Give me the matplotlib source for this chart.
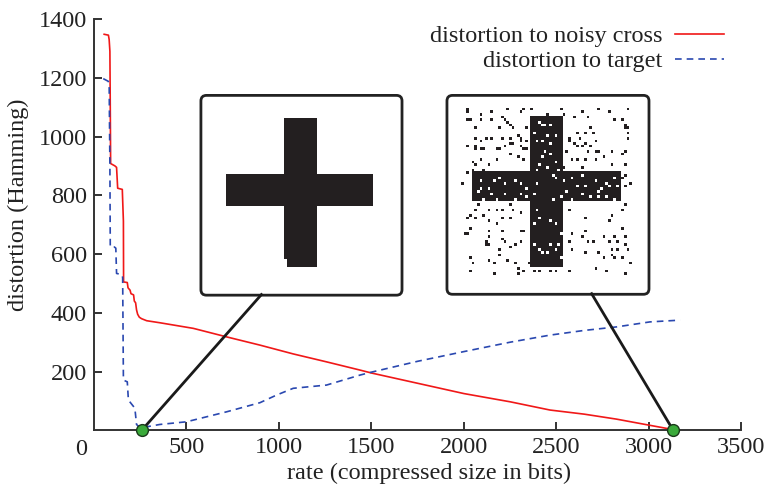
import numpy as np
import matplotlib
matplotlib.use('Agg')
import matplotlib.pyplot as plt
from matplotlib.colors import ListedColormap
from matplotlib.patches import FancyBboxPatch

plt.rcParams['font.family'] = 'serif'
plt.rcParams['font.serif'] = ['Liberation Serif', 'DejaVu Serif']
plt.rcParams['font.size'] = 17.5

# distortion to the noisy cross
rate_noisy = [55, 78, 82, 86, 90, 113, 122, 128, 153, 159, 160, 180, 184, 195, 200, 214, 218,
              225, 230, 236, 245, 257, 285, 357, 537, 717, 897, 1077, 1257, 1438, 1500, 1750,
              2000, 2250, 2465, 2650, 2825, 3005, 3100, 3150]
dist_noisy = [1348, 1345, 1330, 1290, 908, 900, 895, 824, 820, 712, 505, 503, 485, 477, 465, 461, 440,
              434, 410, 395, 385, 380, 373, 366, 347, 318, 290, 260, 233, 205, 195, 160,
              125, 97, 69, 55, 38, 17, 6, 2]

# distortion to the clean target
rate_target = [50, 77, 82, 86, 88, 110, 118, 122, 150, 155, 159, 180, 186, 215, 221, 230, 257, 285,
               357, 500, 717, 897, 987, 1077, 1257, 1438, 1500, 1750, 2000, 2250, 2465, 2650, 2825,
               3005, 3168]
dist_target = [1197, 1188, 1180, 900, 624, 624, 620, 534, 530, 520, 171, 165, 103, 80, 75, 20, 3, 12,
               20, 29, 63, 94, 120, 143, 154, 188, 198, 235, 268, 300, 324, 340, 352,
               369, 375]

# highlighted points (rate, distortion)
pick_rate = [258, 3131]
pick_dist = [0, 0]

# the 64x64 cross images: (row range, col range) of the bars
grid = 64
clean_hbar = (26, 37, 4, 58)
clean_vbar = (5, 60, 26, 37)
noisy_hbar = (25, 35, 4, 59)
noisy_vbar = (4, 60, 26, 37)

# flipped pixels of the noisy cross (col, row)
noise_flips = [
    (2, 1), (2, 2), (11, 2), (17, 1), (23, 1), (26, 1), (22, 2), (2, 5), (3, 5), (7, 3), (7, 5),
    (11, 5), (15, 4), (16, 5), (17, 6), (18, 7), (5, 8), (14, 8), (19, 8), (24, 8), (5, 12), (7, 13),
    (9, 12), (11, 12), (15, 12), (18, 12), (21, 11), (22, 12), (22, 13), (2, 15), (5, 15), (5, 16),
    (7, 16), (8, 16), (13, 16), (14, 16), (16, 15), (18, 14), (19, 14), (22, 15), (23, 16), (24, 13),
    (24, 16), (4, 21), (5, 22), (7, 20), (13, 20), (18, 18), (21, 19), (23, 20), (10, 22), (2, 25),
    (4, 24), (8, 24), (0, 29),
    (29, 6), (27, 10), (28, 13), (30, 19), (28, 24), (29, 22), (7, 28), (12, 28), (16, 29), (10, 31),
    (20, 28), (24, 31), (28, 29), (7, 31), (14, 27), (22, 29),
    (32, 3), (37, 1), (38, 3), (42, 4), (45, 2), (47, 4), (51, 1), (55, 2), (57, 5), (60, 5), (62, 1),
    (61, 7), (61, 8), (62, 8), (62, 10), (62, 12), (40, 12), (43, 10), (44, 12), (46, 10), (48, 8),
    (49, 10), (50, 13), (40, 13), (42, 14), (43, 15), (45, 15), (46, 14), (48, 15), (47, 17), (50, 17),
    (51, 17), (56, 17), (60, 18), (61, 17), (39, 17), (41, 20), (43, 20), (46, 20), (50, 20), (53, 19),
    (56, 22), (61, 22), (38, 23), (45, 23), (61, 26), (61, 30), (63, 29), (60, 27),
    (33, 7), (35, 11), (33, 14), (33, 18), (35, 21), (36, 24), (34, 26), (35, 27), (38, 28), (41, 27),
    (43, 30), (46, 30), (50, 28), (54, 29), (55, 30), (57, 27), (52, 31), (58, 30), (45, 26),
    (30, 7), (31, 7), (32, 11), (30, 13), (31, 17), (32, 23),
    (6, 32), (11, 33), (13, 35), (16, 33), (20, 35), (22, 33), (24, 34), (8, 35), (27, 33),
    (6, 37), (5, 39), (2, 42), (3, 41), (5, 42), (8, 41), (10, 39), (13, 39), (15, 39), (18, 37),
    (19, 39), (22, 40), (10, 43), (13, 44), (15, 42), (18, 42), (1, 48), (2, 48), (3, 46), (10, 47),
    (10, 49), (9, 51), (9, 52), (10, 52), (15, 47), (15, 50), (16, 51), (18, 53), (20, 52), (22, 47),
    (22, 51), (23, 47), (3, 57), (4, 59), (10, 58), (12, 59), (14, 54), (14, 56), (17, 58), (20, 59),
    (21, 61), (23, 62), (3, 62), (12, 63), (21, 63), (27, 62), (29, 62), (25, 59),
    (28, 39), (29, 42), (27, 44), (29, 54), (30, 55), (27, 52),
    (34, 35), (37, 34), (39, 32), (41, 35), (45, 33), (48, 34), (51, 34), (54, 34), (57, 35), (51, 32),
    (33, 43), (35, 44), (37, 48), (33, 52), (35, 54), (36, 52), (32, 55), (37, 57),
    (40, 39), (46, 42), (56, 41), (60, 39), (61, 37), (55, 43), (60, 46), (41, 48), (45, 49), (46, 47),
    (47, 51), (49, 51), (40, 51), (41, 54), (46, 55), (51, 55), (53, 49), (55, 51), (57, 49), (58, 51),
    (56, 54), (58, 54), (61, 49), (61, 52), (62, 54), (57, 57), (53, 57), (50, 61), (54, 62), (33, 62),
    (35, 62), (40, 62), (61, 63), (60, 57), (63, 59), (56, 56),
]


def cross(hbar, vbar):
    img = np.zeros((grid, grid))
    img[hbar[0]:hbar[1] + 1, hbar[2]:hbar[3] + 1] = 1
    img[vbar[0]:vbar[1] + 1, vbar[2]:vbar[3] + 1] = 1
    return img


clean = cross(clean_hbar, clean_vbar)
clean[58:61, 26] = 0
noisy = cross(noisy_hbar, noisy_vbar)
for c, r in set(noise_flips):
    noisy[r, c] = 1 - noisy[r, c]

fig = plt.figure(figsize=(7.66, 4.91), dpi=100)
ax = fig.add_axes([0.1227, 0.1236, 0.8453, 0.8377])

ax.plot(rate_noisy, dist_noisy, color='#f01818', lw=1.2, label='distortion to noisy cross', zorder=2)
ax.plot(rate_target, dist_target, color='#2a48b0', lw=1.2, ls=(0, (4, 3)), label='distortion to target', zorder=2)

cmap = ListedColormap(['white', '#231f20'])
boxes = [(578, 460, 1087, 680), (1908, 463, 1092, 677)]
extents = [(654, 1578, 529, 1107), (1984, 2908, 529, 1107)]
for (bx, by, bw, bh), ext, img in zip(boxes, extents, [clean, noisy]):
    ax.add_patch(FancyBboxPatch((bx, by), bw, bh, boxstyle='round,pad=0,rounding_size=30',
                                mutation_aspect=0.63, fc='white', ec='#222222', lw=2, zorder=3))
    ax.imshow(img, cmap=cmap, extent=ext, aspect='auto', interpolation='nearest', zorder=4)

# connectors from the boxes to the points
ax.plot([905, pick_rate[0]], [462, pick_dist[0]], color='#1a1a1a', lw=2, zorder=5, clip_on=False)
ax.plot([2690, pick_rate[1]], [465, pick_dist[1]], color='#1a1a1a', lw=2, zorder=5, clip_on=False)
ax.plot(pick_rate, pick_dist, 'o', ms=8.5, mfc='#3aaa3a', mec='#1a3a1a', mew=1, zorder=6, clip_on=False)

ax.set_xlim(0, 3500)
ax.set_ylim(0, 1400)
ax.set_xticks([500, 1000, 1500, 2000, 2500, 3000, 3500])
ax.set_yticks([200, 400, 600, 800, 1000, 1200, 1400])
ax.annotate('0', xy=(0, 0), xytext=(-9, -6), textcoords='offset points', ha='center', va='top',
            color='#222222')
for s in ['top', 'right']:
    ax.spines[s].set_visible(False)
for s in ['left', 'bottom']:
    ax.spines[s].set_color('#333333')
    ax.spines[s].set_linewidth(1.4)
ax.tick_params(direction='in', length=6, width=1.4, color='#333333', pad=5, labelcolor='#222222')

ax.set_xlabel('rate (compressed size in bits)', color='#222222')
ax.xaxis.set_label_coords(0.517, -0.08)
ax.set_ylabel('distortion (Hamming)', color='#222222')
ax.yaxis.set_label_coords(-0.100, 0.548)

ax.legend(loc='upper right', bbox_to_anchor=(0.973, 0.985), frameon=False, markerfirst=False,
          handlelength=2.0, handletextpad=0.55, labelspacing=0.12, borderpad=0, borderaxespad=0,
          labelcolor='#222222')

fig.savefig('out.png', dpi=100)
